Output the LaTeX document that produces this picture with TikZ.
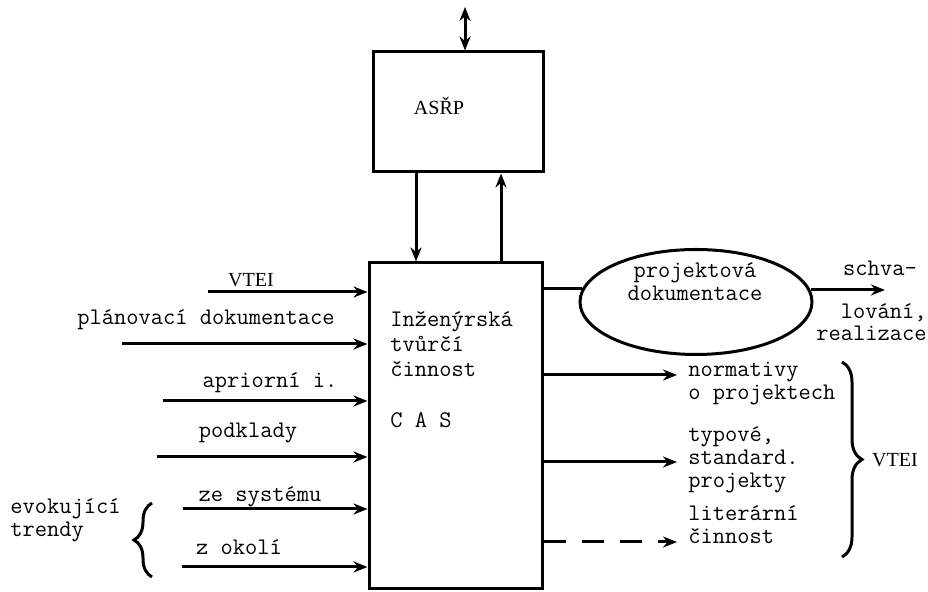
\documentclass[tikz,border=0pt]{standalone}
\usepackage{fontspec}
\newfontfamily\boxfont{Liberation Serif}
\usepackage{tikz}
\usetikzlibrary{arrows,arrows.meta,shapes.geometric}
\usetikzlibrary{positioning}
\usetikzlibrary{decorations.pathreplacing}
\tikzstyle{block} = [rectangle, draw=black, line width=1.5pt, inner sep=0pt]
\tikzstyle{docshape} = [ellipse, minimum width=116pt, minimum height=52.5pt, draw=black, line width=1.5pt, inner sep=0pt]
\tikzstyle{arrow} = [line width=1.5pt,->,>={Stealth[length=7pt,width=5.5pt]}]
\tikzstyle{dasharrow} = [arrow, dash pattern=on 11pt off 8pt]
\tikzstyle{txt} = [inner sep=0pt, align=left, font=\ttfamily\fontsize{11.9pt}{11.5pt}\selectfont]
\tikzstyle{serif} = [inner sep=0pt, font=\boxfont\fontsize{10pt}{12pt}\selectfont]
\tikzstyle{bracket} = [line width=1.5pt, decorate]
\begin{document}
\begin{tikzpicture}[x=0.5pt, y=-0.5pt]
                    \useasboundingbox (0,0) rectangle (928,592);
                    % blocks
                    \node (asrp) [block, minimum width=85pt, minimum height=60pt] at (458,112) {};
                    \node (asrplbl) [serif] at (439,106) {ASŘP};
                    \node (cas) [block, minimum width=86.5pt, minimum height=163pt] at (455.5,426) {};
                    \node (castxt) [txt, anchor=west, font=\ttfamily\fontsize{11.9pt}{12.5pt}\selectfont] at (390,344) {Inženýrská\\tvůrčí\\činnost};
                    \node (caslbl) [txt, anchor=west] at (390,420) {C A S};
                    \node (doc) [docshape] at (696,302) {};
                    \node (doclbl) [txt, align=center] at (695,282) {projektová\\dokumentace};
                    % links to ASRP
                    \coordinate (ext) at (465,7);
                    \coordinate (dn) at (416,0);
                    \coordinate (up) at (501,0);
                    \draw [arrow, <->] (asrp.north -| ext) -- (ext);
                    \draw [arrow] (asrp.south -| dn) -- (cas.north -| dn);
                    \draw [arrow] (cas.north -| up) -- (asrp.south -| up);
                    % inputs
                    \coordinate (in1) at (208,292);
                    \coordinate (in2) at (122,344);
                    \coordinate (in3) at (163,401);
                    \coordinate (in4) at (157,457);
                    \coordinate (in5) at (183,509);
                    \coordinate (in6) at (182,567);
                    \draw [arrow] (in1) -- (in1 -| cas.west);
                    \draw [arrow] (in2) -- (in2 -| cas.west);
                    \draw [arrow] (in3) -- (in3 -| cas.west);
                    \draw [arrow] (in4) -- (in4 -| cas.west);
                    \draw [arrow] (in5) -- (in5 -| cas.west);
                    \draw [arrow] (in6) -- (in6 -| cas.west);
                    \node (vtein) [serif] at (251,280) {VTEI};
                    \node (plan) [txt] at (206,320) {plánovací dokumentace};
                    \node (apri) [txt] at (270,383) {apriorní i.};
                    \node (podk) [txt] at (248,433) {podklady};
                    \node (zesys) [txt] at (260,497) {ze systému};
                    \node (zokoli) [txt] at (239,547) {z okolí};
                    \node (evok) [txt, anchor=west] at (10,520) {evokující\\trendy};
                    \draw [bracket, decoration={brace, amplitude=9pt}] (152,577) -- (152,503);
                    % outputs
                    \draw [line width=1.5pt] (cas.east |- doc.173) -- (doc.173);
                    \coordinate (appr) at (885,0);
                    \draw [arrow] (doc.6) -- (doc.6 -| appr);
                    \node (schva) [txt] at (880,268) {schva-};
                    \node (real) [txt, align=right, anchor=east, font=\ttfamily\fontsize{11.9pt}{10.8pt}\selectfont] at (927,322) {lování,\\realizace};
                    \coordinate (out1) at (677,375);
                    \coordinate (out2) at (677,462);
                    \coordinate (out3) at (677,542);
                    \draw [arrow] (cas.east |- out1) -- (out1);
                    \draw [arrow] (cas.east |- out2) -- (out2);
                    \draw [dasharrow] (cas.east |- out3) -- (out3);
                    \node (norm) [txt, anchor=west] at (688,384) {normativy\\o projektech};
                    \node (typ) [txt, anchor=west] at (688,460) {typové,\\standard.\\projekty};
                    \node (lit) [txt, anchor=west] at (688,525) {literární\\činnost};
                    \draw [bracket, decoration={brace, amplitude=10pt}] (842,362) -- (842,557);
                    \node (vteout) [serif] at (895,460) {VTEI};
                \end{tikzpicture}
\end{document}
